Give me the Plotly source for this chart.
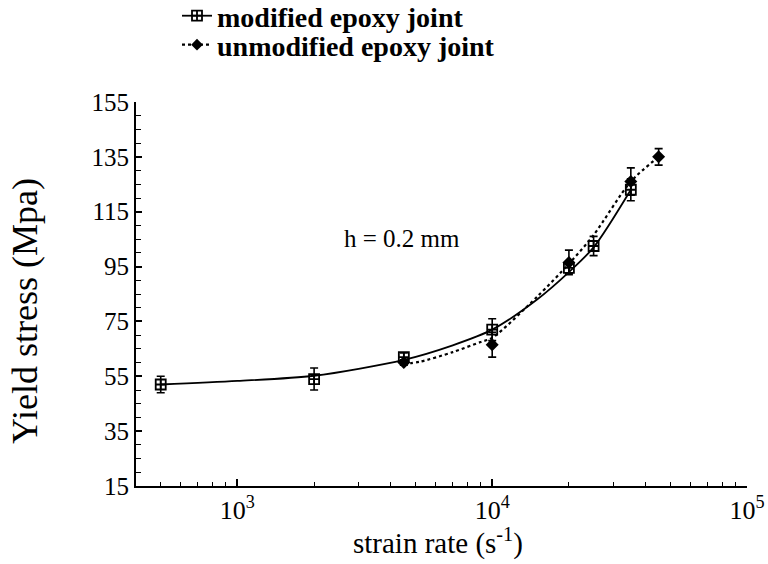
import plotly.graph_objects as go

# Measured yield stress (MPa) vs strain rate (1/s), h = 0.2 mm joints
mod_rate = [500, 2000, 4500, 10000, 20000, 25000, 35000]
mod_stress = [52, 54, 62, 72, 94.5, 102.5, 123]
mod_err = [3, 4, 1.5, 4, 2, 3.5, 4]

unmod_rate = [4500, 10000, 20000, 35000, 45000]
unmod_stress = [60, 66.5, 96.5, 126, 135]
unmod_err = [1, 4.5, 4.5, 5, 3]

# Smoothed trend curves through each data set
mod_fit_rate = [500, 1000, 2000, 4500, 7000, 10000, 15000, 20000, 25000, 35000]
mod_fit_stress = [52, 53.3, 55.2, 61, 66.3, 72, 83, 93, 102, 123]

unmod_fit_rate = [4500, 5200, 7000, 9000, 10000, 15000, 20000, 25000, 35000, 45000]
unmod_fit_stress = [59.5, 60.3, 63.8, 67.5, 69, 84, 96, 106.5, 126, 135]

y_ticks = [15, 35, 55, 75, 95, 115, 135, 155]
x_ticks = [1e3, 1e4, 1e5]
x_tick_text = ["10<sup>3</sup>", "10<sup>4</sup>", "10<sup>5</sup>"]

SERIF = "Liberation Serif, Times New Roman, serif"
BLACK = "black"

# plot area in pixels
plot_l, plot_r, plot_t, plot_b = 136, 747, 102, 486
W, H = 768, 564


def px(xp):
    return (xp - plot_l) / (plot_r - plot_l)


def py(yp):
    return (plot_b - yp) / (plot_b - plot_t)


fig = go.Figure()

# trend curves
fig.add_trace(go.Scatter(
    x=mod_fit_rate, y=mod_fit_stress, mode="lines",
    line=dict(color=BLACK, width=1.8, shape="spline", smoothing=0.8),
    showlegend=False, hoverinfo="skip"))
fig.add_trace(go.Scatter(
    x=unmod_fit_rate, y=unmod_fit_stress, mode="lines",
    line=dict(color=BLACK, width=2.2, dash="dot", shape="spline", smoothing=0.8),
    showlegend=False, hoverinfo="skip"))

# data points with error bars
fig.add_trace(go.Scatter(
    x=mod_rate, y=mod_stress, mode="markers",
    marker=dict(symbol="square-cross-open", size=10, color=BLACK,
                line=dict(width=1.8, color=BLACK)),
    error_y=dict(type="data", array=mod_err, color=BLACK, thickness=1.6, width=4),
    showlegend=False))
fig.add_trace(go.Scatter(
    x=unmod_rate, y=unmod_stress, mode="markers",
    marker=dict(symbol="diamond", size=10, color=BLACK),
    error_y=dict(type="data", array=unmod_err, color=BLACK, thickness=1.6, width=4),
    showlegend=False))

# legend entries, one legend box per row
fig.add_trace(go.Scatter(
    x=[None], y=[None], mode="lines+markers", name="modified epoxy joint",
    line=dict(color=BLACK, width=1.8),
    marker=dict(symbol="square-cross-open", size=10, color=BLACK,
                line=dict(width=1.8, color=BLACK)),
    legend="legend"))
fig.add_trace(go.Scatter(
    x=[None], y=[None], mode="lines+markers", name="unmodified epoxy joint",
    line=dict(color=BLACK, width=2.2, dash="dot"),
    marker=dict(symbol="diamond", size=9, color=BLACK),
    legend="legend2"))

fig.update_xaxes(
    type="log", range=[2.602, 5],
    tickvals=x_ticks, ticktext=x_tick_text,
    ticks="inside", ticklen=7, tickwidth=1.5, tickcolor=BLACK,
    minor=dict(ticks="inside", ticklen=4, tickwidth=1.2, tickcolor=BLACK,
               tickvals=[m * d for d in (100, 1000, 10000) for m in range(2, 10)]),
    showline=True, linecolor=BLACK, linewidth=2, mirror=False,
    showgrid=False, zeroline=False, automargin=False,
    tickfont=dict(family=SERIF, size=26, color=BLACK))
fig.update_yaxes(
    range=[15, 155], tickvals=y_ticks,
    ticks="inside", ticklen=6, tickwidth=1.5, tickcolor=BLACK,
    minor=dict(ticks="inside", ticklen=5, tickwidth=1.2, tickcolor=BLACK, dtick=5),
    showline=True, linecolor=BLACK, linewidth=2, mirror=False,
    showgrid=False, zeroline=False, automargin=False,
    tickfont=dict(family=SERIF, size=25, color=BLACK))

legend_style = dict(xanchor="left", yanchor="middle",
                    font=dict(family=SERIF, size=28, color=BLACK, weight="bold"),
                    bgcolor="rgba(0,0,0,0)", itemwidth=30)

text_anchor = dict(xref="paper", yref="paper", showarrow=False,
                   xanchor="center", yanchor="middle")

fig.update_layout(
    width=W, height=H,
    margin=dict(l=plot_l, r=W - plot_r, t=plot_t, b=H - plot_b, autoexpand=False),
    paper_bgcolor="white", plot_bgcolor="white",
    font=dict(family=SERIF, color=BLACK),
    legend=dict(x=px(177), y=py(16), **legend_style),
    legend2=dict(x=px(177), y=py(45), **legend_style),
    annotations=[
        dict(text="h = 0.2 mm", x=px(402), y=py(238),
             font=dict(family=SERIF, size=25, color=BLACK), **text_anchor),
        dict(text="Yield stress (Mpa)", textangle=-90, x=px(25), y=py(311),
             font=dict(family=SERIF, size=36, color=BLACK), **text_anchor),
        dict(text="strain rate (s<sup>-1</sup>)", x=px(438), y=py(541),
             font=dict(family=SERIF, size=29, color=BLACK), **text_anchor),
    ],
)

fig.write_html("out.html")
